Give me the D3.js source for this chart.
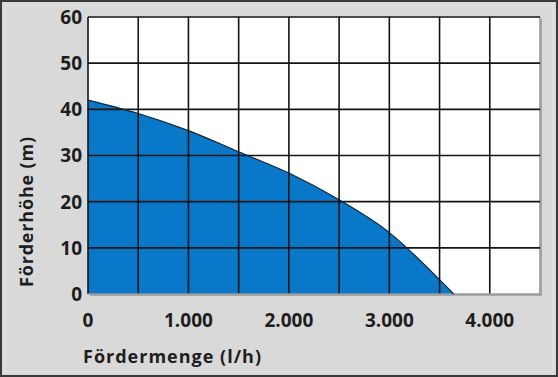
<!doctype html>
<html>
<head>
<meta charset="utf-8">
<script src="https://d3js.org/d3.v7.min.js"></script>
<style>
  body { margin: 0; background: #fff; }
  text { font-family: "Open Sans", Lato, sans-serif; font-weight: bold; fill: #1e1e1e; }
</style>
</head>
<body>
<svg width="558" height="377"></svg>
<script>
// flow (l/h) vs head (m)
var flow = [0, 500, 1000, 1500, 2000, 2500, 3000, 3500, 3640];
var head = [42, 39.1, 35.4, 30.8, 26.2, 20.4, 13.3, 3.1, 0];
var xTickLabels = ["0", "1.000", "2.000", "3.000", "4.000"];
var yTickLabels = ["0", "10", "20", "30", "40", "50", "60"];

var svg = d3.select("svg"),
    width = +svg.attr("width"),
    height = +svg.attr("height");

var x = d3.scaleLinear().domain([0, 4500]).range([88, 540]);
var y = d3.scaleLinear().domain([0, 60]).range([294, 17]);

// background + frame
svg.append("rect").attr("width", width).attr("height", height).attr("fill", "#d9d9d9");
svg.append("rect").attr("x", 5).attr("y", 5).attr("width", width - 10).attr("height", height - 10)
    .attr("fill", "none").attr("stroke", "#e6e6e6").attr("stroke-width", 1);
svg.append("rect").attr("x", 1).attr("y", 1).attr("width", width - 2).attr("height", height - 2)
    .attr("fill", "none").attr("stroke", "#3a3a3a").attr("stroke-width", 2);

// plot shadow + white plot
svg.append("rect").attr("x", x(0) + 2).attr("y", y(60) + 2)
    .attr("width", x(4500) - x(0)).attr("height", y(0) - y(60))
    .attr("fill", "#a9a9a9");
svg.append("rect").attr("x", x(0)).attr("y", y(60))
    .attr("width", x(4500) - x(0)).attr("height", y(0) - y(60))
    .attr("fill", "#fff");

var pts = flow.map(function(d, i) { return [d, head[i]]; });

var area = d3.area()
    .x(function(d) { return x(d[0]); })
    .y0(y(0))
    .y1(function(d) { return y(d[1]); })
    .curve(d3.curveMonotoneX);

svg.append("path").datum(pts).attr("d", area).attr("fill", "#0a78c8");

// grid
var g = svg.append("g");
g.selectAll(".vx").data(d3.range(0, 4501, 500)).enter().append("line")
    .attr("x1", function(d) { return x(d); }).attr("x2", function(d) { return x(d); })
    .attr("y1", y(0)).attr("y2", y(60))
    .attr("stroke", function(d) { return d === 4500 ? "#9a9a9a" : "#151515"; })
    .attr("stroke-width", 1.6);
g.selectAll(".hy").data(d3.range(0, 61, 10)).enter().append("line")
    .attr("x1", x(0)).attr("x2", x(4500))
    .attr("y1", function(d) { return y(d); }).attr("y2", function(d) { return y(d); })
    .attr("stroke", function(d) { return d === 0 ? "#9a9a9a" : "#151515"; })
    .attr("stroke-width", 1.6);

var line = d3.line()
    .x(function(d) { return x(d[0]); })
    .y(function(d) { return y(d[1]); })
    .curve(d3.curveMonotoneX);
svg.append("path").datum(pts).attr("d", line)
    .attr("fill", "none").attr("stroke", "#10263c").attr("stroke-width", 1.2);

// y tick labels
svg.selectAll(".yl").data(yTickLabels).enter().append("text")
    .attr("x", 82)
    .attr("y", function(d) { return y(+d); })
    .attr("dy", "0.36em")
    .attr("text-anchor", "end")
    .style("font-size", "19px")
    .text(function(d) { return d; });

// x tick labels
svg.selectAll(".xl").data(xTickLabels).enter().append("text")
    .attr("x", function(d, i) { return x(i * 1000); })
    .attr("y", 327)
    .attr("text-anchor", "middle")
    .style("font-size", "19px")
    .text(function(d) { return d; });

// axis titles
svg.append("text").attr("x", 83).attr("y", 363)
    .attr("textLength", 178)
    .style("font-size", "18px")
    .text("Fördermenge (l/h)");

svg.append("text")
    .attr("transform", "translate(33,212) rotate(-90)")
    .attr("text-anchor", "middle")
    .attr("textLength", 150)
    .style("font-size", "18px")
    .text("Förderhöhe (m)");
</script>
</body>
</html>
